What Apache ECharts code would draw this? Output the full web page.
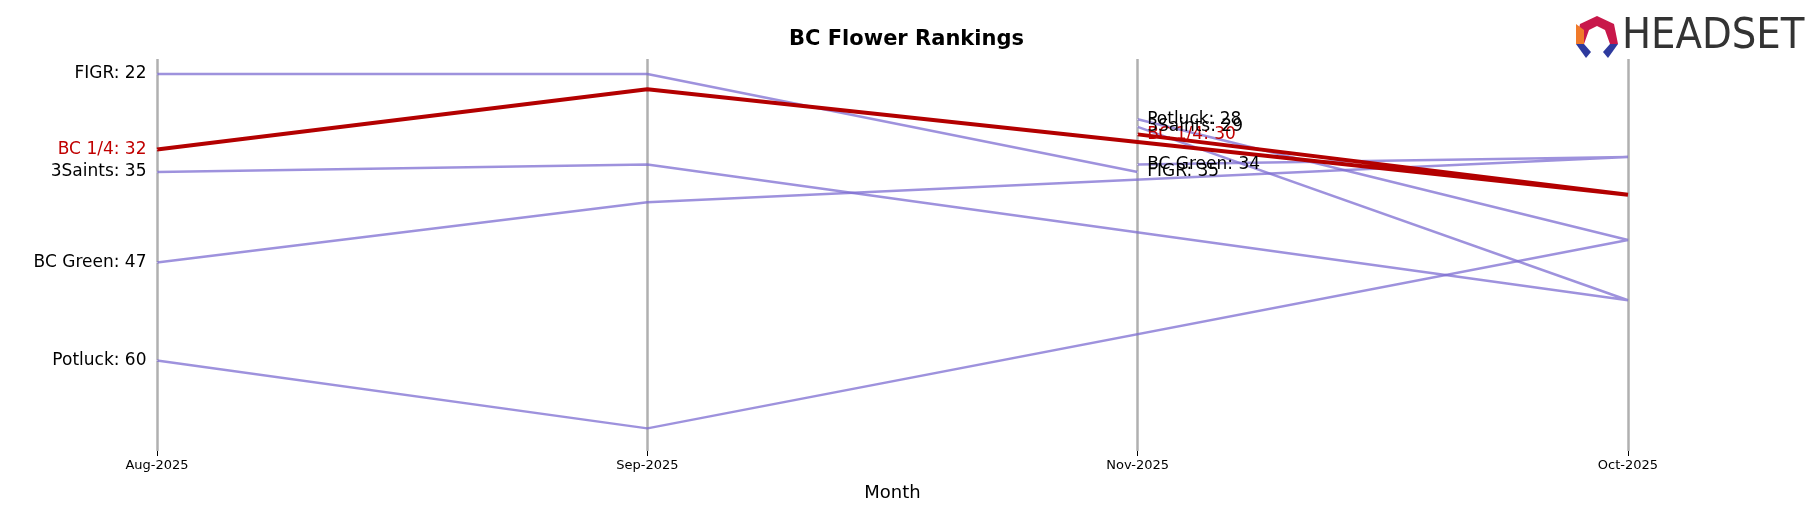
<!DOCTYPE html>
<html>
<head>
<meta charset="utf-8">
<script src="https://cdn.jsdelivr.net/npm/echarts@6/dist/echarts.min.js"></script>
<style>html,body{margin:0;padding:0;background:#fff}#chart{width:1813px;height:507px}</style>
</head>
<body>
<div id="chart"></div>
<script>
// x positions follow the axis order shown: Aug, Sep, Nov, Oct
var months = ['Aug-2025', 'Sep-2025', 'Nov-2025', 'Oct-2025'];
var brands = ['FIGR', 'BC 1/4', '3Saints', 'BC Green', 'Potluck'];
// ranks in data order Aug, Sep, Oct, Nov (null = no rank)
var rankAug = [22, 32, 35, 47, 60];
var rankSep = [22, 24, 34, 39, 69];
var rankOct = [null, 38, 52, 33, 44];
var rankNov = [35, 30, 29, 34, 28];
var highlight = 'BC 1/4';

var chart = echarts.init(document.getElementById('chart'));
var purple = 'rgba(125,110,210,0.75)';
var red = '#b30000';

var series = brands.map(function (b, i) {
  var isHi = b === highlight;
  var pts = [[0, rankAug[i]], [1, rankSep[i]]];
  if (rankOct[i] != null) pts.push([3, rankOct[i]]);
  pts.push([2, rankNov[i]]);
  return {
    name: b, type: 'line', data: pts, symbol: 'none', z: isHi ? 5 : 2,
    lineStyle: {color: isHi ? red : purple, width: isHi ? 4 : 2.5}
  };
});

function labelSeries(x, ranks, pos) {
  return {
    type: 'scatter', symbolSize: 1, z: 10,
    itemStyle: {color: '#fff', opacity: 1},
    labelLayout: {hideOverlap: false},
    data: brands.map(function (b, i) {
      return {
        value: [x, ranks[i]],
        label: {show: true, position: pos, distance: pos === 'left' ? 10 : 9, formatter: b + ': ' + ranks[i],
          color: b === highlight ? '#c00000' : '#000', opacity: 1, fontSize: 17, fontFamily: 'DejaVu Sans'}
      };
    })
  };
}
series.push(labelSeries(0, rankAug, 'left'));
series.push(labelSeries(2, rankNov, 'right'));

chart.setOption({
  animation: false,
  title: {text: 'BC Flower Rankings', left: 'center', top: 24, textStyle: {fontSize: 21, fontWeight: 'bold', fontFamily: 'DejaVu Sans', color: '#000'}},
  grid: {left: 157, right: 185, top: 59, bottom: 56},
  xAxis: {
    type: 'value', min: 0, max: 3, interval: 1,
    name: 'Month', nameLocation: 'middle', nameGap: 33,
    nameTextStyle: {fontSize: 18, fontFamily: 'DejaVu Sans', color: '#000'},
    axisLine: {show: false}, axisTick: {show: true, length: 5, lineStyle: {color: '#000'}},
    axisLabel: {fontSize: 13, fontFamily: 'DejaVu Sans', color: '#000', margin: 8, formatter: function (v) { return months[v]; }},
    splitLine: {show: true, lineStyle: {color: '#b0b0b0', width: 2.5}}
  },
  yAxis: {
    type: 'value', inverse: true, min: 20, max: 72,
    axisLine: {show: false}, axisTick: {show: false}, axisLabel: {show: false}, splitLine: {show: false}
  },
  graphic: [
    {type: 'polygon', shape: {points: [[1580, 24], [1597, 16], [1614, 24], [1618, 44], [1610, 44], [1605, 30], [1597, 26], [1589, 30], [1584, 44], [1576, 44]]}, style: {fill: '#c8184a'}},
    {type: 'polygon', shape: {points: [[1576, 24], [1584, 30], [1584, 44], [1576, 44]]}, style: {fill: '#f07a2a'}},
    {type: 'polygon', shape: {points: [[1576, 44], [1584, 44], [1591, 52], [1586, 58]]}, style: {fill: '#2e3a9e'}},
    {type: 'polygon', shape: {points: [[1618, 44], [1610, 44], [1603, 52], [1608, 58]]}, style: {fill: '#2e3a9e'}},
    {type: 'text', left: 1622, top: 15, style: {text: 'HEADSET', fontSize: 43, fontFamily: 'DejaVu Sans Condensed', fill: '#333'}}
  ],
  series: series
});
</script>
</body>
</html>
